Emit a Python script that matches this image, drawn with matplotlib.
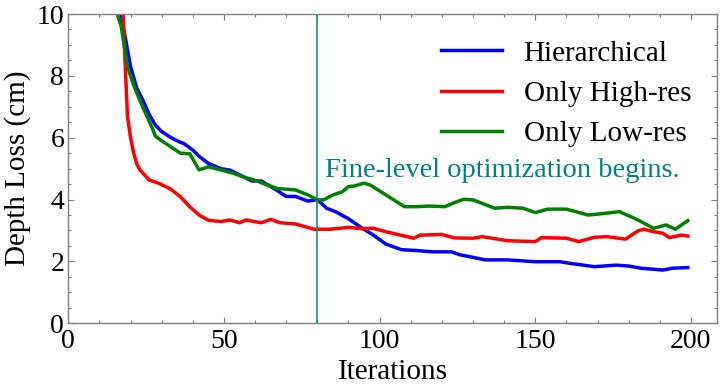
import numpy as np
import matplotlib
matplotlib.use("Agg")
import matplotlib.pyplot as plt
from matplotlib.ticker import MultipleLocator

plt.rcParams['font.family'] = ['Liberation Serif', 'DejaVu Serif']

# values
iters_hier = [15, 17, 18, 20, 22, 24, 26, 28, 30, 33, 36, 37, 40, 42, 45, 49, 52, 55, 59, 62,
              65, 67, 70, 73, 77, 80, 83, 86, 90, 94, 98, 102, 107, 112, 117, 123, 126, 134, 141, 150,
              158, 161, 169, 176, 180, 184, 191, 194, 199]
loss_hier = [12.5, 10.0, 9.4, 8.3, 7.6, 7.2, 6.75, 6.4, 6.2, 6.0, 5.85, 5.82, 5.6, 5.4, 5.17, 5.0, 4.95, 4.8, 4.6, 4.6,
             4.42, 4.3, 4.1, 4.1, 3.95, 4.0, 3.72, 3.6, 3.38, 3.1, 2.85, 2.56, 2.38, 2.35, 2.31, 2.31, 2.21, 2.05, 2.05, 1.99,
             1.99, 1.94, 1.83, 1.88, 1.85, 1.78, 1.72, 1.78, 1.80]

iters_high = [16, 17, 18, 19, 20, 21, 22, 23, 26, 29, 33, 36, 39, 42, 45, 49, 52, 55, 57, 62,
              65, 68, 73, 79, 84, 90, 94, 98, 102, 108, 111, 113, 120, 124, 130, 133, 141, 150, 152, 160,
              164, 169, 173, 179, 183, 185, 188, 191, 193, 197, 199]
loss_high = [13.5, 11.5, 9.0, 6.7, 6.0, 5.5, 5.15, 4.96, 4.63, 4.53, 4.33, 4.09, 3.77, 3.5, 3.33, 3.29, 3.34, 3.25, 3.34, 3.25,
             3.36, 3.25, 3.21, 3.04, 3.04, 3.10, 3.06, 3.07, 2.96, 2.82, 2.75, 2.85, 2.87, 2.76, 2.75, 2.80, 2.67, 2.64, 2.77, 2.75,
             2.64, 2.78, 2.80, 2.72, 2.99, 3.04, 2.96, 2.91, 2.77, 2.85, 2.82]

iters_low = [14, 16, 17, 19, 21, 23, 25, 27, 28, 30, 33, 36, 39, 42, 45, 49, 53, 56, 60, 64,
             67, 73, 77, 80, 82, 85, 88, 90, 92, 95, 97, 100, 105, 108, 112, 116, 121, 124, 127, 130,
             137, 141, 146, 150, 154, 160, 167, 173, 177, 183, 188, 192, 195, 199]
loss_low = [12.0, 9.9, 9.6, 8.3, 7.7, 7.2, 6.75, 6.3, 6.05, 5.9, 5.7, 5.5, 5.48, 4.96, 5.06, 4.96, 4.85, 4.74, 4.62, 4.47,
            4.36, 4.31, 4.15, 3.99, 3.99, 4.15, 4.25, 4.42, 4.44, 4.53, 4.47, 4.28, 3.96, 3.77, 3.77, 3.79, 3.77, 3.90, 4.01, 3.99,
            3.72, 3.75, 3.72, 3.58, 3.69, 3.69, 3.50, 3.56, 3.61, 3.34, 3.07, 3.18, 3.04, 3.32]

fine_start = 80
note = "Fine-level optimization begins."

fig = plt.figure(figsize=(7.22, 3.89), dpi=100)
ax = fig.add_axes([0.0946, 0.169, 0.899, 0.795])

ax.plot(iters_hier, loss_hier, color='blue', lw=2.5, label='Hierarchical')
ax.plot(iters_high, loss_high, color='red', lw=2.5, label='Only High-res')
ax.plot(iters_low, loss_low, color='green', lw=2.5, label='Only Low-res')
ax.axvline(fine_start, color='teal', lw=1.1)
ax.text(fine_start + 2.4, 4.74, note, color='teal', fontsize=20.5)

ax.set_xlim(0, 208.5)
ax.set_ylim(0, 10)
ax.xaxis.set_major_locator(MultipleLocator(50))
ax.xaxis.set_minor_locator(MultipleLocator(10))
ax.yaxis.set_major_locator(MultipleLocator(2))
ax.yaxis.set_minor_locator(MultipleLocator(0.5))
ax.tick_params(which='both', direction='in', top=True, right=True, color='0.5', width=0.8, labelsize=20)
ax.tick_params(axis='x', pad=4)
ax.tick_params(axis='y', pad=3)
ax.tick_params(which='major', length=4.5)
ax.tick_params(which='minor', length=2.5)
for s in ax.spines.values():
    s.set_color('0.5')
    s.set_linewidth(1.0)

ax.set_xlabel('Iterations', fontsize=21, labelpad=4)
ax.set_ylabel('Depth Loss (cm)', fontsize=21, labelpad=4)

ax.legend(loc='upper right', frameon=False, fontsize=21, handlelength=2.1,
          handletextpad=0.75, labelspacing=0.47, bbox_to_anchor=(1.0, 1.0))

fig.savefig('out.png', dpi=100)
